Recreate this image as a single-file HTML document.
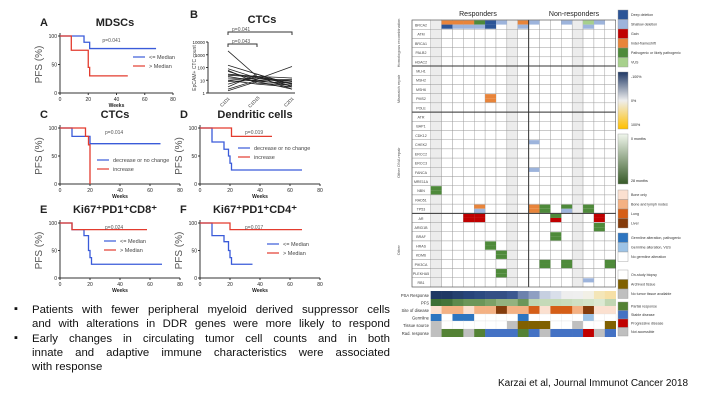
<!DOCTYPE html>
<html><head><meta charset="utf-8"><style>
body{margin:0;background:#fff;}
#wrap{position:relative;width:720px;height:405px;overflow:hidden;background:#fff;font-family:"Liberation Sans",sans-serif;}
svg{position:absolute;left:0;top:0;}
.bul{position:absolute;left:14px;font-size:11.2px;color:#111;}
.ln{position:absolute;left:32px;width:358px;font-size:11.4px;line-height:14px;color:#111;text-align:justify;text-align-last:justify;white-space:nowrap;}
.ln.last{text-align-last:left;}
</style></head><body>
<div id="wrap">
<svg id="chart" width="720" height="405"></svg>
<div class="bul" style="top:303px">▪</div>
<div class="bul" style="top:332px">▪</div>
<div>
<div class="ln" style="top:303px">Patients with fewer peripheral myeloid derived suppressor cells</div>
<div class="ln" style="top:317px">and with alterations in DDR genes were more likely to respond</div>
<div class="ln" style="top:332px">Early changes in circulating tumor cell counts and in both</div>
<div class="ln" style="top:346px">innate and adaptive immune characteristics were associated</div>
<div class="ln last" style="top:360px">with response</div>
</div>
<div style="position:absolute;left:498px;top:378px;font-size:10px;color:#111">Karzai et al, Journal Immunot Cancer 2018</div>
</div>
<script>
// ---- KM data (weeks, survival %) ----
const kmA_blue=[[0,100],[17,89],[21,78],[68,78]];
const kmA_red=[[0,100],[8,75],[20,45],[21,30],[48,30]];
const kmC_blue=[[0,100],[8,85],[20,72],[67,72]];
const kmC_red=[[0,100],[17,85],[19,70],[20,0]];
const kmD_blue=[[0,100],[8,75],[16,62],[19,50],[20,37],[21,25],[68,25]];
const kmD_red=[[0,100],[21,85],[48,85]];
const kmE_blue=[[0,100],[8,88],[16,77],[19,50],[20,37],[21,25],[68,25]];
const kmE_red=[[0,100],[8,88],[58,88]];
const kmF_blue=[[0,100],[8,77],[16,66],[19,50],[20,37],[21,25],[35,25]];
const kmF_red=[[0,100],[20,88],[68,88]];
const xTicks=[0,20,40,60,80];
const yTicks=[0,50,100];
// ---- CTC spaghetti (3 timepoints) ----
const ctcT0=[2000,150,80,50,30,20,15,10,10,8,5,3,2,1.5,60,25];
const ctcT1=[20,30,15,10,20,8,12,5,15,10,20,30,10,8,6,18];
const ctcT2=[5,3,8,4,15,2,120,3,6,10,2,5,12,6,4,8];
// ---- heatmap ----
const genes=["BRCA2","ATM","BRCA1","PALB2","HDAC2","MLH1","MSH2","MSH6","PMS2","POLE","ATR","BAP1","CDK12","CHEK2","ERCC2","ERCC3","FANCA","MRE11A","NBN","RAD51","TP53","AR","ARID1B","BRAF","HRAS","KDM6","PIK3CA","PLEKHA5","RB1"];
const nCols=17;
const greyCols=[0,7,13];
// [row,col,topColor,bottomColor]
const alts=[[0,1,"#e8843a","#2c5597"],[0,2,"#e8843a","#9db4dc"],[0,3,"#e8843a","#9db4dc"],[0,4,"#4e8a3a","#9db4dc"],[0,5,"#2c5597","#2c5597"],[0,6,"#9db4dc","#fff"],[0,8,"#e8843a","#9db4dc"],[0,9,"#9db4dc","#fff"],[0,12,"#9db4dc","#fff"],[0,14,"#a7d08c","#9db4dc"],[0,15,"#9db4dc","#fff"],
[8,5,"#e8843a","#e8843a"],[13,9,"#9db4dc","#fff"],[16,9,"#9db4dc","#fff"],[18,0,"#4e8a3a","#4e8a3a"],
[20,4,"#e8843a","#9db4dc"],[20,9,"#e8843a","#e8843a"],[20,10,"#4e8a3a","#4e8a3a"],[20,12,"#4e8a3a","#9db4dc"],[20,14,"#4e8a3a","#4e8a3a"],
[21,3,"#c00000","#c00000"],[21,4,"#c00000","#c00000"],[21,11,"#4e8a3a","#c00000"],[21,15,"#c00000","#c00000"],[22,15,"#4e8a3a","#4e8a3a"],[23,11,"#4e8a3a","#4e8a3a"],[24,5,"#4e8a3a","#4e8a3a"],[25,6,"#4e8a3a","#4e8a3a"],[26,10,"#4e8a3a","#4e8a3a"],[26,12,"#4e8a3a","#4e8a3a"],[26,16,"#4e8a3a","#4e8a3a"],[27,6,"#4e8a3a","#4e8a3a"],[28,14,"#9db4dc","#fff"]];
const annLabels=["PSA Response","PFS","Site of disease","Germline","Tissue source","Rad. response"];
const psaRow=["#1f3864","#1f3864","#25406e","#27447a","#2c4a80","#344f85","#344f85","#3b5790","#6d82ad","#8f9fc2","#c6cfe0","#d9dfea","#eeeeee","#efefef","#f2f0e6","#f4e6b8","#f6e0a6"];
const pfsRow=["#3f6f34","#46753a","#5e8a4d","#6c9659","#6c9659","#7ca167","#93b27f","#93b27f","#6c9659","#bfd5b1","#c5dab8","#c5dab8","#c9dcbc","#cfe0c4","#d4e4c9","#dce9d3","#c0d6b2"];
const siteRow=["#fbe0d0","#f4b183","#f4b183","#fbe0d0","#f4b183","#f4b183","#843c0c","#f4b183","#f4b183","#d55e17","#fbe0d0","#d55e17","#d55e17","#f4b183","#843c0c","#fbe0d0","#fbe0d0"];
const germRow=["#2e75c0","#fff","#2e75c0","#2e75c0","#fff","#fff","#fff","#fff","#2e75c0","#fff","#fff","#fff","#fff","#fff","#9dc3e6","#fff","#fff"];
const tissRow=["#bfbfbf","#fff","#fff","#fff","#fff","#fff","#fff","#bfbfbf","#806000","#806000","#806000","#fff","#fff","#bfbfbf","#fff","#fff","#806000"];
const radRow=["#bfbfbf","#548235","#548235","#bfbfbf","#548235","#4472c4","#4472c4","#4472c4","#548235","#4472c4","#bfbfbf","#4472c4","#4472c4","#4472c4","#c00000","#bfbfbf","#4472c4"];
const legendItems=[["#2c5597","Deep deletion"],["#9db4dc","Shallow deletion"],["#c00000","Gain"],["#e8843a","Indel-frameshift"],["#4e8a3a","Pathogenic or likely pathogenic"],["#a7d08c","VUS"]];
const legSite=[["#fbe0d0","Bone only"],["#f4b183","Bone and lymph nodes"],["#d55e17","Lung"],["#843c0c","Liver"]];
const legGerm=[["#2e75c0","Germline alteration, pathogenic"],["#9dc3e6","Germline alteration, VUS"],["#fff","No germline alteration"]];
const legTiss=[["#fff","On-study biopsy"],["#806000","Archived tissue"],["#bfbfbf","No tumor tissue available"]];
const legResp=[["#548235","Partial response"],["#4472c4","Stable disease"],["#c00000","Progressive disease"],["#bfbfbf","Not accessible"]];

const NS="http://www.w3.org/2000/svg";
const svg=document.getElementById('chart');
function mk(tag,attrs,parent){const e=document.createElementNS(NS,tag);for(const k in attrs)e.setAttribute(k,attrs[k]);(parent||svg).appendChild(e);return e;}
function txt(x,y,s,size,extra){const t=mk('text',Object.assign({x:x,y:y,'font-size':size,'font-family':'Liberation Sans, sans-serif',fill:'#222'},extra||{}));t.textContent=s;return t;}

function kmPanel(name,letter,title,x0,x1,yTop,yBot,series,p,legend,legX,legY){
  const g=mk('g',{});
  
  
  const sx=v=>x0+(x1-x0)*v/80, sy=v=>yBot-(yBot-yTop)*v/100;
  mk('line',{x1:x0,y1:yTop-3,x2:x0,y2:yBot,stroke:'#333','stroke-width':1},g);
  mk('line',{x1:x0,y1:yBot,x2:x1,y2:yBot,stroke:'#333','stroke-width':1},g);
  xTicks.forEach(t=>{mk('line',{x1:sx(t),y1:yBot,x2:sx(t),y2:yBot+2,stroke:'#333'},g);txt(sx(t),yBot+8,t,5,{'text-anchor':'middle'});});
  yTicks.forEach(t=>{mk('line',{x1:x0-2,y1:sy(t),x2:x0,y2:sy(t),stroke:'#333'},g);txt(x0-3,sy(t)+2,t,5,{'text-anchor':'end'});});
  txt(sx(40),yBot+14,'Weeks',5,{'text-anchor':'middle','font-weight':'bold'});
  txt(x0-18,(yTop+yBot)/2,'PFS (%)',10,{'text-anchor':'middle',transform:`rotate(-90 ${x0-18} ${(yTop+yBot)/2})`,fill:'#555'});
  txt(x0-20,yTop-10,letter,11,{'font-weight':'bold'});
  txt(x0+55,yTop-10,title,11,{'text-anchor':'middle','font-weight':'bold'});
  txt(sx(30),yTop+6,p,5,{fill:'#555'});
  series.forEach(([pts,col])=>{
    let d='M'+sx(pts[0][0])+','+sy(pts[0][1]);
    for(let i=1;i<pts.length;i++){d+=' H'+sx(pts[i][0])+' V'+sy(pts[i][1]);}
    const path=mk('path',{d:d,fill:'none',stroke:col,'stroke-width':1.3},g);
    
    
  });
  legend.forEach(([lab,col],i)=>{
    const ly=legY+i*9;
    mk('line',{x1:legX,y1:ly,x2:legX+12,y2:ly,stroke:col,'stroke-width':1.2},g);
    txt(legX+16,ly+2,lab,5.5,{fill:'#444'});
  });
}
const B='#3a5bd9',R='#e33b2e';
kmPanel('panel-a-mdsc','A','MDSCs',60,173,36,93,[[kmA_blue,B],[kmA_red,R]],'p=0.041',[['<= Median',B],['> Median',R]],133,57);
kmPanel('panel-c-ctc','C','CTCs',60,180,128,184,[[kmC_blue,B],[kmC_red,R]],'p=0.014',[['decrease or no change',B],['increase',R]],97,160);
kmPanel('panel-d-dendritic','D','Dendritic cells',200,320,128,184,[[kmD_blue,B],[kmD_red,R]],'p=0.019',[['decrease or no change',B],['increase',R]],238,148);
kmPanel('panel-e-cd8','E','Ki67\u207aPD1\u207aCD8\u207a',60,180,223,278,[[kmE_blue,B],[kmE_red,R]],'p=0.024',[['<= Median',B],['> Median',R]],104,241);
kmPanel('panel-f-cd4','F','Ki67\u207aPD1\u207aCD4\u207a',200,320,223,278,[[kmF_blue,B],[kmF_red,R]],'p=0.017',[['<= Median',B],['> Median',R]],267,244);

// panel B
(function(){
  const g=mk('g',{});
  
  
  const x0=208,x1=295,yT=42,yB=93;
  const sy=v=>yB-(yB-yT)*Math.log10(v)/4;
  const xs=[228,257,292];
  mk('line',{x1:x0,y1:yT,x2:x0,y2:yB,stroke:'#333'},g);
  mk('line',{x1:x0,y1:yB,x2:x1,y2:yB,stroke:'#333'},g);
  [1,10,100,1000,10000].forEach(t=>{mk('line',{x1:x0-2,y1:sy(t),x2:x0,y2:sy(t),stroke:'#333'},g);txt(x0-3,sy(t)+2,t,4.5,{'text-anchor':'end'});});
  txt(190,18,'B',11,{'font-weight':'bold'});
  txt(262,23,'CTCs',11,{'text-anchor':'middle','font-weight':'bold'});
  txt(196,68,'EpCAM+ CTC count',5,{'text-anchor':'middle',transform:'rotate(-90 196 68)',fill:'#444'});
  mk('path',{d:'M228,35 V32 H292 V35',fill:'none',stroke:'#333'},g);
  mk('path',{d:'M228,47 V44 H257 V47',fill:'none',stroke:'#333'},g);
  txt(232,31,'p=0.041',5,{fill:'#555'});txt(232,43,'p=0.043',5,{fill:'#555'});
  ctcT0.forEach((v,i)=>{
    const l=mk('polyline',{points:`${xs[0]},${sy(v)} ${xs[1]},${sy(ctcT1[i])} ${xs[2]},${sy(ctcT2[i])}`,fill:'none',stroke:'#222','stroke-width':0.8},g);
    
    
  });
  ['C1D1','C1D15','C2D1'].forEach((s,i)=>txt(xs[i]-2,yB+10,s,4.5,{transform:`rotate(-45 ${xs[i]-2} ${yB+10})`,'text-anchor':'middle'}));
})();

// heatmap
(function(){
  const g=mk('g',{});
  
  
  const cx0=430.7,cw=(615.7-430.7)/nCols,ry0=20,rh=(287-20)/genes.length;
  txt(478,16,'Responders',7,{'text-anchor':'middle'});
  txt(574,16,'Non-responders',7,{'text-anchor':'middle'});
  genes.forEach((gn,r)=>{
    const y=ry0+r*rh;
    mk('rect',{x:412,y:y,width:18.7,height:rh,fill:'#fff',stroke:'#888','stroke-width':0.4},g);
    txt(421,y+rh*0.7,gn,3.6,{'text-anchor':'middle',fill:'#444'});
    for(let c=0;c<nCols;c++){
      const cell=mk('rect',{x:cx0+c*cw,y:y,width:cw,height:rh,fill:greyCols.includes(c)?'#ececec':'#fff',stroke:'#999','stroke-width':0.4},g);
      
      
    }
  });
  alts.forEach(([r,c,t,b])=>{
    const y=ry0+r*rh;
    mk('rect',{x:cx0+c*cw,y:y+rh*0.05,width:cw,height:rh*0.45,fill:t},g);
    if(b!=="#fff")mk('rect',{x:cx0+c*cw,y:y+rh*0.5,width:cw,height:rh*0.45,fill:b},g);
  });
  [5,10,21].forEach(r=>mk('line',{x1:412,y1:ry0+r*rh,x2:615.7,y2:ry0+r*rh,stroke:'#333','stroke-width':1},g));
  mk('line',{x1:cx0+9*cw,y1:ry0,x2:cx0+9*cw,y2:287,stroke:'#333','stroke-width':1},g);
  mk('rect',{x:412,y:ry0,width:203.7,height:267,fill:'none',stroke:'#555','stroke-width':0.6},g);
  [['Homologous recombination',0,5],['Mismatch repair',5,10],['Other DNA repair',10,21],['Other',21,29]].forEach(([s,a,b])=>{
    const ym=ry0+(a+b)/2*rh;
    txt(400,ym,s,4,{'text-anchor':'middle',transform:`rotate(-90 400 ${ym})`,fill:'#555'});
  });
  const rows=[psaRow,pfsRow,siteRow,germRow,tissRow,radRow];
  const ay=[291,299,306,314,321,329],ah=[8,7,8,7,8,8];
  rows.forEach((row,ri)=>{
    txt(429,ay[ri]+ah[ri]*0.75,annLabels[ri],4.2,{'text-anchor':'end',fill:'#333'});
    row.forEach((col,c)=>{
      const rc=mk('rect',{x:cx0+c*cw,y:ay[ri],width:cw+0.3,height:ah[ri],fill:col,stroke:col==='#fff'?'#ddd':'none','stroke-width':0.3},g);
      
      
    });
  });
})();

// legend
(function(){
  const g=mk('g',{});
  
  
  function group(items,y0,h){
    items.forEach(([col,lab],i)=>{
      const y=y0+i*h;
      mk('rect',{x:618,y:y,width:10,height:h,fill:col,stroke:'#999','stroke-width':0.4},g);
      txt(631,y+h*0.65,lab,3.6,{fill:'#333'});
    });
  }
  group(legendItems,10,9.5);
  const d=mk('defs',{});
  const lg1=mk('linearGradient',{id:'g1',x1:0,y1:0,x2:0,y2:1},d);
  [['0','#1f3864'],['0.5','#eeeeee'],['1','#ffc000']].forEach(([o,c])=>mk('stop',{offset:o,'stop-color':c},lg1));
  const lg2=mk('linearGradient',{id:'g2',x1:0,y1:0,x2:0,y2:1},d);
  [['0','#f0f6ec'],['1','#375a28']].forEach(([o,c])=>mk('stop',{offset:o,'stop-color':c},lg2));
  mk('rect',{x:618,y:72,width:10,height:57,fill:'url(#g1)',stroke:'#999','stroke-width':0.4},g);
  txt(631,78,'-100%',3.6);txt(631,102,'0%',3.6);txt(631,126,'100%',3.6);
  mk('rect',{x:618,y:134,width:10,height:50,fill:'url(#g2)',stroke:'#999','stroke-width':0.4},g);
  txt(631,140,'0 months',3.6);txt(631,182,'28 months',3.6);
  group(legSite,190,9.5);
  group(legGerm,233,9.5);
  group(legTiss,270,9.5);
  group(legResp,302,8.5);
})();
</script>
</body></html>
